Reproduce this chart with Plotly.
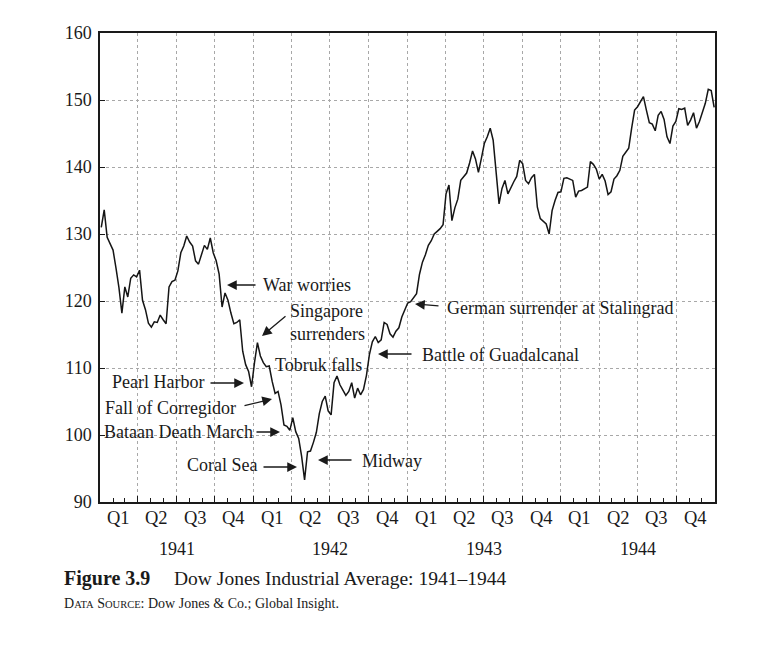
import pandas as pd
import plotly.graph_objects as go

# ---------------- data (weekly closes) ----------------
START_WEEK = "1941-01-04"
DJIA = [
    131.0, 133.6, 129.5, 128.6, 127.6, 124.9, 122.0, 118.2, 122.1, 120.6,
    123.4, 123.9, 123.6, 124.6, 120.1, 118.7, 116.7, 116.1, 116.9, 116.8,
    117.9, 117.2, 116.6, 122.1, 122.9, 123.1, 124.5, 127.2, 128.2, 129.7,
    128.8, 128.2, 126.0, 125.5, 127.0, 128.3, 127.7, 129.4, 127.2, 126.0,
    124.0, 119.1, 121.2, 120.1, 118.2, 116.6, 116.8, 117.2, 112.5, 110.5,
    109.5, 107.2, 110.8, 113.8, 111.8, 110.8, 110.2, 110.3, 108.0, 106.2,
    106.5, 104.5, 101.5, 101.3, 100.7, 102.6, 100.5, 99.5, 96.8, 93.3,
    97.5, 97.6, 98.9, 100.4, 103.2, 105.0, 105.8, 103.6, 103.0, 107.8,
    108.8, 107.5, 106.7, 105.9, 106.5, 107.8, 105.5, 107.0, 106.0, 106.8,
    108.9, 112.0, 113.9, 114.7, 113.8, 114.2, 116.8, 116.5, 115.1, 114.6,
    115.5, 116.0, 117.6, 118.7, 119.7, 119.9, 120.5, 121.1, 124.0, 125.8,
    126.9, 128.3, 129.0, 130.0, 130.4, 130.8, 131.4, 136.0, 137.3, 132.0,
    133.9, 135.2, 138.0, 138.5, 139.1, 140.6, 142.4, 141.2, 139.2, 141.3,
    143.5, 144.5, 145.8, 144.0, 139.5, 134.5, 136.8, 138.0, 136.0, 137.0,
    137.8, 138.6, 141.0, 140.5, 138.0, 137.5, 138.4, 138.9, 134.0, 132.3,
    131.9, 131.5, 130.0, 133.5, 135.0, 136.2, 136.3, 138.3, 138.4, 138.2,
    138.0, 135.5, 136.4, 136.5, 136.7, 137.0, 140.8, 140.4, 139.7, 138.2,
    138.9, 137.9, 135.9, 136.3, 138.2, 138.7, 139.5, 141.6, 142.2, 142.8,
    145.8, 148.5, 149.0, 149.7, 150.5, 148.5, 146.6, 146.4, 145.4, 147.7,
    148.3, 147.1, 144.5, 143.5, 146.1, 146.8, 148.7, 148.6, 148.8, 146.2,
    147.0, 148.1, 145.8, 146.8, 148.1, 149.5, 151.6, 151.4, 148.9,
]
YEARS = ["1941", "1942", "1943", "1944"]
QUARTERS = ["Q1", "Q2", "Q3", "Q4"]
Y_TICKS = [90, 100, 110, 120, 130, 140, 150, 160]

EVENTS = [
    # label, text-left px, text-centre-y px (screen)
    ("War worries", 261, 285),
    ("Singapore<br>surrenders", 288, 322),
    ("Tobruk falls", 273, 365),
    ("Pearl Harbor", 110, 382),
    ("Fall of Corregidor", 103, 408),
    ("Bataan Death March", 102, 432),
    ("Coral Sea", 185, 465),
    ("Midway", 360, 461),
    ("Battle of Guadalcanal", 420, 355),
    ("German surrender at Stalingrad", 445, 308),
]
ARROWS = [
    # head (x, y), tail (x, y) in screen px
    ((227, 285), (257, 285)),
    ((262, 336), (287, 315)),
    ((244, 383), (209, 383)),
    ((272, 399), (243, 406)),
    ((280, 432), (255, 432)),
    ((297, 467), (262, 467)),
    ((318, 460), (353, 460)),
    ((378, 354), (413, 354)),
    ((415, 304), (440, 306)),
]

dates = pd.date_range(START_WEEK, periods=len(DJIA), freq="W-SAT")

# ---------------- layout geometry ----------------
OFF = 8                       # default page margin of the html body
W, H = 768 - OFF, 653 - OFF
L, R, T, B = 100, 715, 33, 502   # plot area in screen px
FONT = "Liberation Serif, Times New Roman, serif"


def paper(x, y):
    return (x - L) / (R - L), (B - y) / (B - T)


fig = go.Figure()
fig.add_trace(go.Scatter(x=dates, y=DJIA, mode="lines",
                         line=dict(color="#151515", width=1.5),
                         hoverinfo="x+y", showlegend=False))

quarter_starts = pd.date_range("1941-01-01", "1945-01-01", freq="QS")

fig.update_layout(
    width=W, height=H,
    margin=dict(l=L - OFF, r=W - (R - OFF), t=T - OFF, b=H - (B - OFF)),
    paper_bgcolor="white", plot_bgcolor="white",
    font=dict(family=FONT, size=18, color="#1a1a1a"),
    xaxis=dict(
        type="date", range=["1941-01-01", "1945-01-01"],
        tickvals=list(quarter_starts), showticklabels=False,
        ticks="inside", ticklen=6, tickcolor="#1a1a1a",
        minor=dict(ticks="inside", ticklen=4, tick0="1941-01-01",
                   dtick="M1", tickcolor="#1a1a1a", showgrid=False),
        showgrid=True, gridcolor="#a8a8a8", griddash="dot", gridwidth=1,
        showline=True, linecolor="#1a1a1a", linewidth=1.5, mirror=True,
        zeroline=False,
    ),
    yaxis=dict(
        range=[90, 160], tickvals=Y_TICKS,
        ticks="inside", ticklen=5, tickcolor="#1a1a1a",
        ticklabelstandoff=3,
        showgrid=True, gridcolor="#a8a8a8", griddash="dot", gridwidth=1,
        showline=True, linecolor="#1a1a1a", linewidth=1.5, mirror=True,
        zeroline=False, tickfont=dict(size=18),
    ),
)

ann = []
# quarter and year labels
for yi, yr in enumerate(YEARS):
    for qi, q in enumerate(QUARTERS):
        qs = pd.Timestamp(f"{yr}-{3 * qi + 1:02d}-01")
        mid = qs + pd.Timedelta(days=45)
        ann.append(dict(x=mid, y=paper(0, 518)[1], xref="x", yref="paper",
                        text=q, showarrow=False, font=dict(size=18.5),
                        xanchor="center", yanchor="middle"))
    ann.append(dict(x=pd.Timestamp(f"{yr}-07-02"), y=paper(0, 549)[1],
                    xref="x", yref="paper", text=yr, showarrow=False,
                    font=dict(size=18), xanchor="center", yanchor="middle"))

# event labels
for text, xl, yc in EVENTS:
    px_, py_ = paper(xl, yc)
    ann.append(dict(x=px_, y=py_, xref="paper", yref="paper", text=text,
                    showarrow=False, font=dict(size=18), xanchor="left",
                    yanchor="middle", align="left"))

# arrows
for (hx, hy), (tx, ty) in ARROWS:
    px_, py_ = paper(hx, hy)
    ann.append(dict(x=px_, y=py_, xref="paper", yref="paper", text="",
                    showarrow=True, ax=tx - hx, ay=ty - hy,
                    arrowhead=2, arrowsize=1.5, arrowwidth=1.3,
                    arrowcolor="#1a1a1a", standoff=0, startstandoff=0))

# caption
cx, cy = paper(62, 578)
ann.append(dict(x=cx, y=cy, xref="paper", yref="paper",
                text="<b>Figure 3.9</b>", showarrow=False,
                font=dict(size=20), xanchor="left", yanchor="middle"))
cx2, _ = paper(172, 578)
ann.append(dict(x=cx2, y=cy, xref="paper", yref="paper",
                text="Dow Jones Industrial Average: 1941–1944",
                showarrow=False, font=dict(size=19.5),
                xanchor="left", yanchor="middle"))
sx, sy = paper(62, 603)
ann.append(dict(x=sx, y=sy, xref="paper", yref="paper",
                text=("D<span style='font-size:10.5px'>ATA</span> "
                      "S<span style='font-size:10.5px'>OURCE</span>: "
                      "Dow Jones &amp; Co.; Global Insight."),
                showarrow=False, font=dict(size=14),
                xanchor="left", yanchor="middle"))

fig.update_layout(annotations=ann)
fig.write_html("out.html")
